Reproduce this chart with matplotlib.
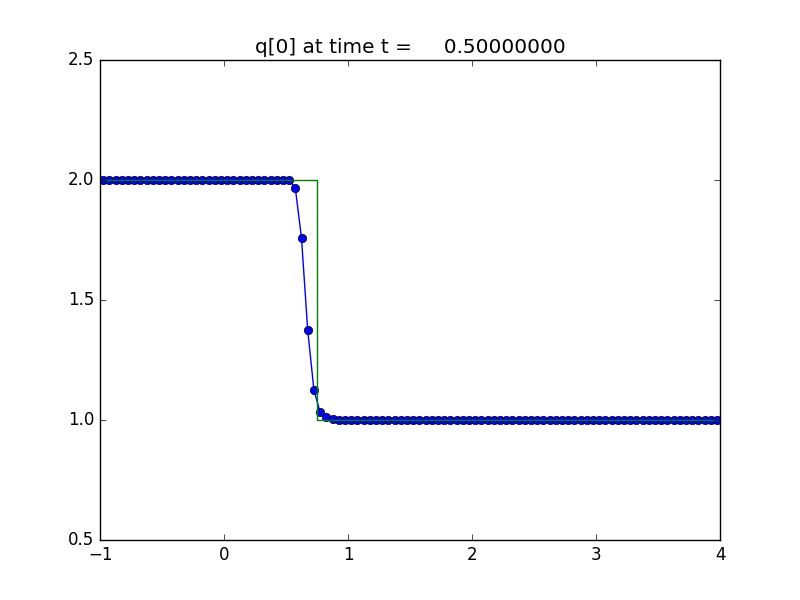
import numpy as np
import matplotlib
matplotlib.use("Agg")
import matplotlib.pyplot as plt

plt.style.use("classic")

# cell centres of the 100-cell grid on [-1, 4]
x_cells = np.arange(100) * 0.05 - 0.975

# computed solution q[0]
q_left = [2.0] * 31
q_front = [1.967, 1.758, 1.375, 1.125, 1.033, 1.013, 1.004]
q_right = [1.0] * 62
q_num = q_left + q_front + q_right

# exact solution: shock at x = 0.75
x_exact = [-1.0, 0.75, 0.75, 4.0]
q_exact = [2.0, 2.0, 1.0, 1.0]

t = 0.5

fig = plt.figure(figsize=(8, 6), dpi=100)
ax = fig.add_subplot(111)
ax.plot(x_cells, q_num, "b-o")
ax.plot(x_exact, q_exact, "g-")
ax.set_xlim(-1, 4)
ax.set_ylim(0.5, 2.5)
ax.set_title("q[0] at time t = %14.8f" % t)

fig.savefig("out.png", dpi=100)
